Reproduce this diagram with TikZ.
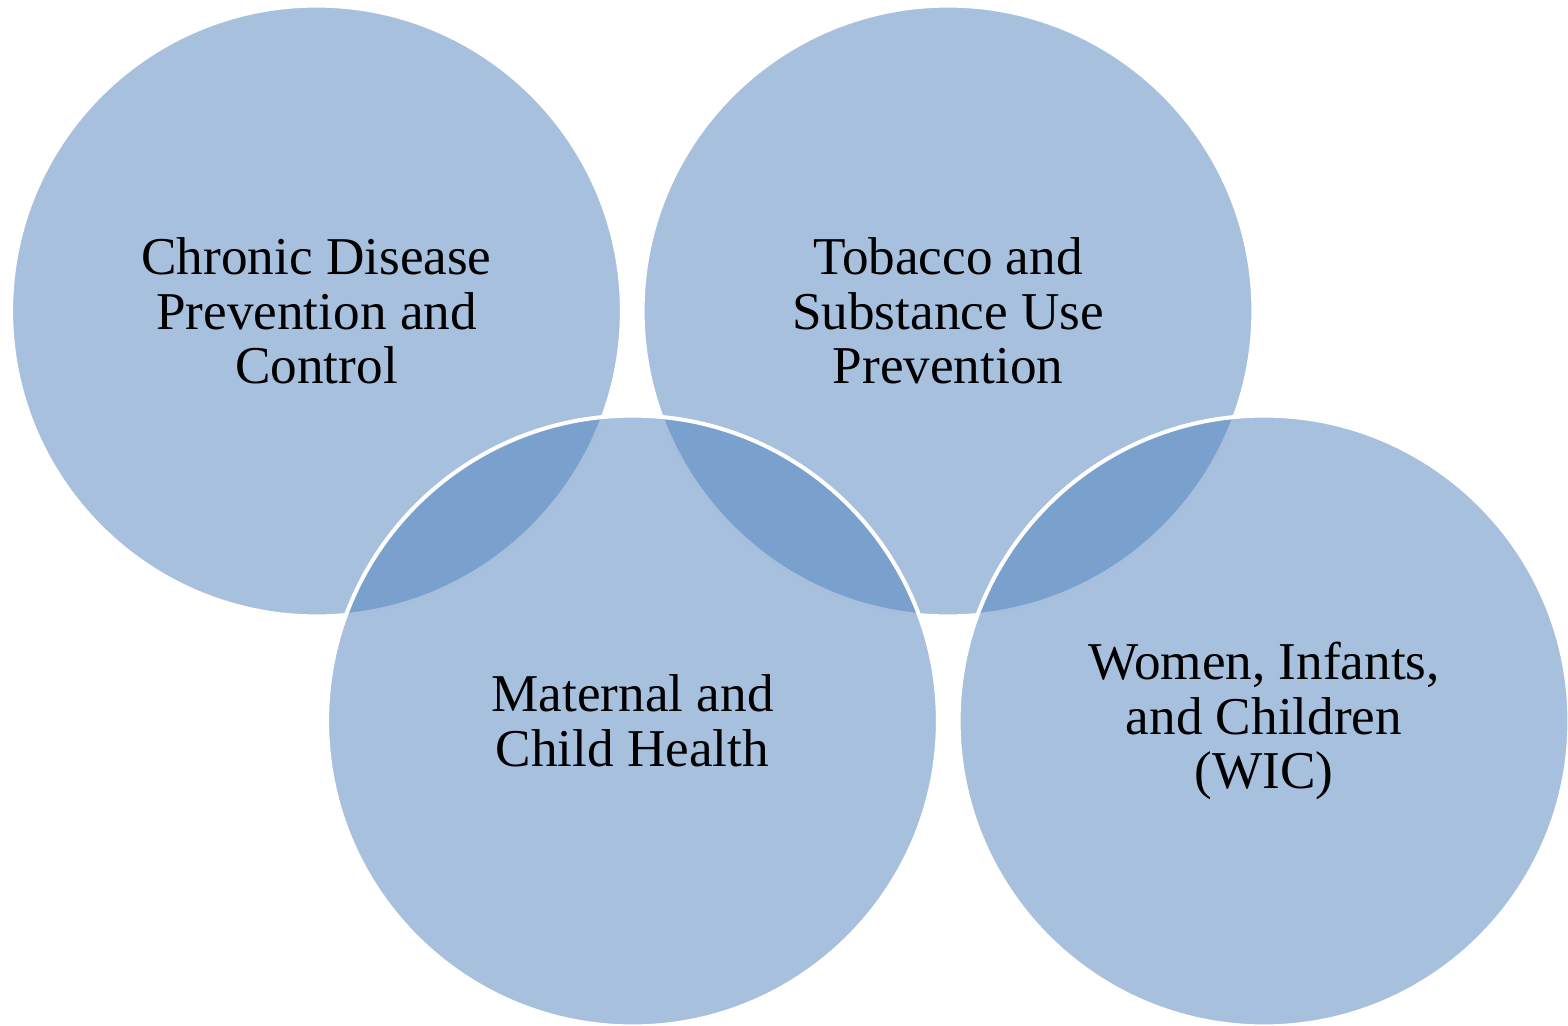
\documentclass[tikz,border=0pt]{standalone}
\usepackage{fontspec}
\setmainfont{Liberation Serif}
\definecolor{accent}{RGB}{79,129,189}
\tikzset{
  venn/.style={fill=accent, fill opacity=0.5, draw=white, draw opacity=1, line width=2pt},
  lbl/.style={align=center, text=black, font=\fontsize{26.6pt}{27.4pt}\selectfont, inner sep=0pt}
}
\begin{document}
\begin{tikzpicture}[x=0.5pt,y=-0.5pt]
\useasboundingbox (0,0) rectangle (1568,1026);
\coordinate (c1) at (316.5,311);
\coordinate (c2) at (948,311);
\coordinate (c3) at (632.5,721);
\coordinate (c4) at (1264,721);
\path[venn] (c1) circle [radius=152.7pt];
\path[venn] (c2) circle [radius=152.7pt];
\path[venn] (c3) circle [radius=152.7pt];
\path[venn] (c4) circle [radius=152.7pt];
\node[lbl] (t1) at (316.5,311) {Chronic Disease\\Prevention and\\Control};
\node[lbl] (t2) at (948,311) {Tobacco and\\Substance Use\\Prevention};
\node[lbl] (t3) at (632.5,721) {Maternal and\\Child Health};
\node[lbl] (t4) at (1264,721) {Women, Infants,\\and Children\\(WIC)};
\end{tikzpicture}
\end{document}
